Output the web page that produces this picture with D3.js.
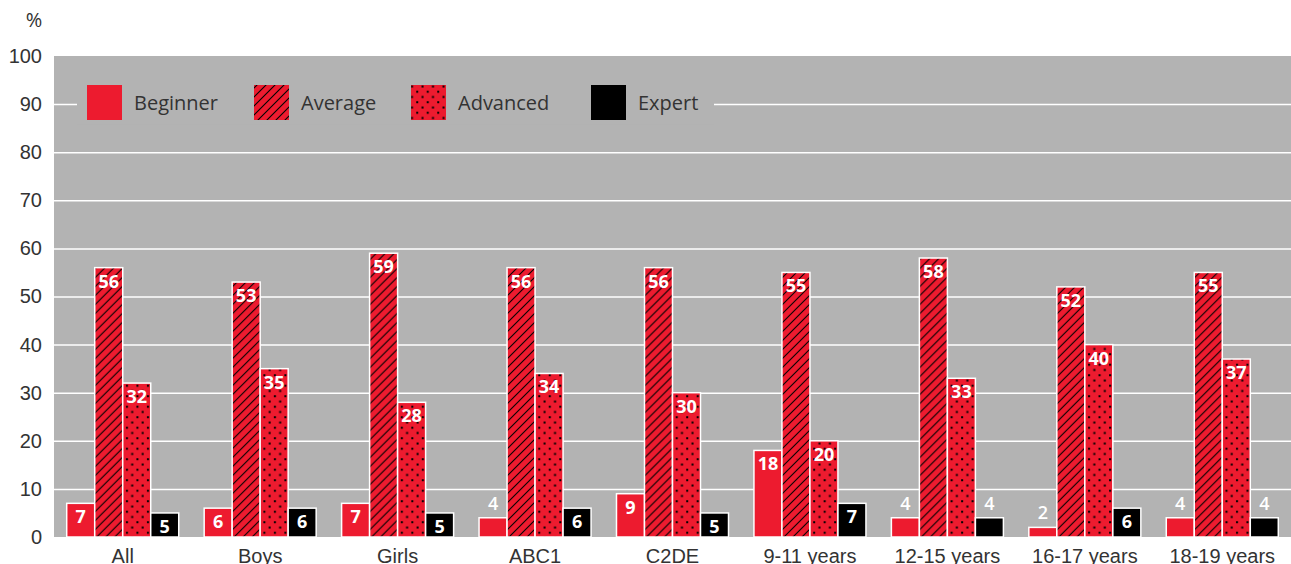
<!DOCTYPE html>
<html>
<head>
<meta charset="utf-8">
<script src="https://cdn.jsdelivr.net/npm/d3@7"></script>
<style>
  html, body { margin: 0; padding: 0; background: #fff; }
  svg { display: block; font-family: "Open Sans", "Noto Sans", sans-serif; }
</style>
</head>
<body>
<svg id="chart" width="1291" height="564"></svg>
<script>
// Skill level by group, percent of respondents
const categories = ["All", "Boys", "Girls", "ABC1", "C2DE", "9-11 years", "12-15 years", "16-17 years", "18-19 years"];
const seriesNames = ["Beginner", "Average", "Advanced", "Expert"];
const beginner = [7, 6, 7, 4, 9, 18, 4, 2, 4];
const average  = [56, 53, 59, 56, 56, 55, 58, 52, 55];
const advanced = [32, 35, 28, 34, 30, 20, 33, 40, 37];
const expert   = [5, 6, 5, 6, 5, 7, 4, 6, 4];
const yTicks = [0, 10, 20, 30, 40, 50, 60, 70, 80, 90, 100];

const seriesValues = [beginner, average, advanced, expert];
const RED = "#ED1B2F";
const GREY = "#B3B3B3";
const TEXT = "#333333";
const FONT_SIZE = 20;

const svg = d3.select("#chart");
const margin = { left: 54, right: 0, top: 56, bottom: 27 };
const W = 1291, H = 564;

// Fill patterns: diagonal hatch and dots over red
const defs = svg.append("defs");
const hs = 9;
const hatch = defs.append("pattern")
  .attr("id", "hatch").attr("patternUnits", "userSpaceOnUse")
  .attr("width", hs).attr("height", hs);
hatch.append("rect").attr("width", hs).attr("height", hs).attr("fill", RED);
hatch.append("path")
  .attr("d", `M-1,${hs + 1} L${hs + 1},-1 M${-hs / 2},${hs / 2} L${hs / 2},${-hs / 2} M${hs / 2},${hs * 1.5} L${hs * 1.5},${hs / 2}`)
  .attr("stroke", "#000").attr("stroke-width", 1.1);

const ds = 10.5;
const dots = defs.append("pattern")
  .attr("id", "dots").attr("patternUnits", "userSpaceOnUse")
  .attr("width", ds).attr("height", ds);
dots.append("rect").attr("width", ds).attr("height", ds).attr("fill", RED);
[[2.5, 2.5], [2.5 + ds / 2, 2.5 + ds / 2]].forEach(([cx, cy]) =>
  dots.append("rect").attr("x", cx - 1).attr("y", cy - 1).attr("width", 2).attr("height", 2).attr("fill", "#000"));

const fills = [RED, "url(#hatch)", "url(#dots)", "#000"];

const x = d3.scaleBand().domain(categories)
  .range([margin.left, W - margin.right]).paddingInner(0.185).paddingOuter(0.0925);
const xs = d3.scaleBand().domain(seriesNames).range([0, x.bandwidth()]).padding(0);
const y = d3.scaleLinear().domain([0, 100]).range([H - margin.bottom, margin.top]);

// Plot background
svg.append("rect")
  .attr("x", margin.left).attr("y", y(100))
  .attr("width", W - margin.left - margin.right).attr("height", y(0) - y(100))
  .attr("fill", GREY);

// Y axis with white gridlines
const yAxis = svg.append("g")
  .attr("transform", `translate(${margin.left},0)`)
  .call(d3.axisLeft(y).tickValues(yTicks).tickSize(-(W - margin.left - margin.right)).tickPadding(12));
yAxis.select(".domain").remove();
yAxis.selectAll(".tick line").attr("stroke", "#fff").attr("stroke-width", 1.5)
  .filter(d => d === 0 || d === 100).remove();
yAxis.selectAll(".tick text").attr("fill", TEXT).attr("font-size", FONT_SIZE);

svg.append("text").attr("x", 34).attr("y", 27).attr("text-anchor", "middle")
  .attr("fill", TEXT).attr("font-size", FONT_SIZE).text("%");

// X axis labels
const xAxis = svg.append("g")
  .attr("transform", `translate(0,${y(0)})`)
  .call(d3.axisBottom(x).tickSize(0).tickPadding(12));
xAxis.select(".domain").remove();
xAxis.selectAll(".tick text").attr("fill", TEXT).attr("font-size", FONT_SIZE);

// Legend, sitting over the 90 gridline
const legendItems = [
  { name: "Beginner", sx: 87 },
  { name: "Average", sx: 254 },
  { name: "Advanced", sx: 411 },
  { name: "Expert", sx: 591 }
];
svg.append("rect").attr("x", 77).attr("y", y(90) - 20).attr("width", 637).attr("height", 40).attr("fill", GREY);
const lg = svg.append("g");
legendItems.forEach((it, i) => {
  lg.append("rect").attr("x", it.sx).attr("y", 85).attr("width", 35).attr("height", 35).attr("fill", fills[i]);
  lg.append("text").attr("x", it.sx + 47).attr("y", 110).attr("fill", TEXT).attr("font-size", FONT_SIZE).text(it.name);
});

// Bars
const groups = svg.append("g").selectAll("g")
  .data(categories).join("g")
  .attr("transform", d => `translate(${x(d)},0)`);

groups.each(function (cat, ci) {
  const g = d3.select(this);
  seriesNames.forEach((s, si) => {
    const v = seriesValues[si][ci];
    const bx = xs(s);
    g.append("rect")
      .attr("x", bx).attr("y", y(v))
      .attr("width", xs.bandwidth()).attr("height", y(0) - y(v))
      .attr("fill", fills[si]).attr("stroke", "#fff").attr("stroke-width", 1.5);
    const inside = v >= 5;
    g.append("text")
      .attr("x", bx + xs.bandwidth() / 2)
      .attr("y", inside ? y(v) + 20 : y(v) - 8)
      .attr("text-anchor", "middle")
      .attr("fill", "#fff")
      .attr("font-size", 18)
      .attr("font-weight", inside ? 700 : 600)
      .text(v);
  });
});
</script>
</body>
</html>
